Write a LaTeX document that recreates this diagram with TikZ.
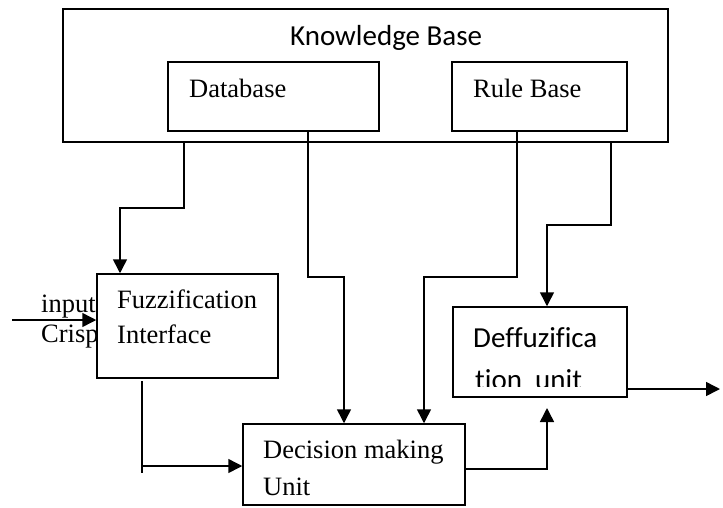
\documentclass[tikz,border=0pt]{standalone}
\usepackage{fontspec}
\setmainfont[Ligatures=CommonOff]{Liberation Serif}
\newfontfamily\calfont[Ligatures=CommonOff]{Carlito}
\usetikzlibrary{arrows.meta}

\tikzset{
  blk/.style={draw, line width=1.5pt, rectangle, inner sep=0pt, fill=white},
  lbl/.style={inner sep=0pt, anchor=base west, font=\fontsize{26.5}{30}\selectfont},
  clbl/.style={inner sep=0pt, anchor=base west, font=\calfont\fontsize{29}{33}\selectfont},
  arr/.style={line width=1.5pt, -{Triangle[length=14pt,width=14pt]}},
  wire/.style={line width=1.5pt}
}

\begin{document}
\begin{tikzpicture}[x=1pt,y=-1pt]
\useasboundingbox (0,0) rectangle (723,507);

% knowledge base and its two parts
\node[blk, minimum width=605pt, minimum height=133pt] (kb) at (365.5,75.5) {};
\node[blk, minimum width=211pt, minimum height=69pt] (db) at (273.5,96.5) {};
\node[blk, minimum width=175pt, minimum height=69pt] (rb) at (539.5,96.5) {};
\node[clbl] (kbt) at (290,45) {Knowledge Base};
\node[lbl] (dbt) at (189,97) {Database};
\node[lbl] (rbt) at (473,97) {Rule Base};

% crisp input labels
\node[lbl] (inpt) at (41,312) {input};
\node[lbl] (crst) at (41,342) {Crisp};

% processing blocks
\node[blk, minimum width=181pt, minimum height=104pt] (fz) at (187.5,326) {};
\node[blk, minimum width=222pt, minimum height=81pt] (dm) at (354,464.5) {};
\node[blk, minimum width=174pt, minimum height=90pt] (df) at (540,352) {};

\node[lbl] (fzt1) at (117,308) {Fuzzification};
\node[lbl] (fzt2) at (117,343) {Interface};
\node[lbl] (dmt1) at (263,458) {Decision making};
\node[lbl] (dmt2) at (263,495) {Unit};
\node[clbl] (dft1) at (473,347) {Deffuzifica};
% second line is cut off by the text frame of the block
\begin{scope}
  \clip (453,307) rectangle (627,386);
  \node[clbl] (dft2) at (475,389) {tion\ \ unit};
\end{scope}

% bend points of the connectors
\coordinate (j1) at (184,208);
\coordinate (j2) at (120,208);
\coordinate (j3) at (308,277);
\coordinate (j4) at (344,277);
\coordinate (j5) at (517,277);
\coordinate (j6) at (424,277);
\coordinate (j7) at (611,225);
\coordinate (j8) at (547,225);
\coordinate (inp) at (12,320);
\coordinate (f1) at (142,381);
\coordinate (f2) at (142,466);
\coordinate (f3) at (142,473);
\coordinate (o1) at (547,469);
\coordinate (o2) at (547,408);
\coordinate (out) at (720,389);

% connectors
\draw[arr] (kb.south -| j1) -- (j1) -- (j2) -- (fz.north -| j2);
\draw[arr] (db.south -| j3) -- (j3) -- (j4) -- (dm.north -| j4);
\draw[arr] (rb.south -| j5) -- (j5) -- (j6) -- (dm.north -| j6);
\draw[arr] (kb.south -| j7) -- (j7) -- (j8) -- (df.north -| j8);
\draw[arr] (inp) -- (fz.west |- inp);
\draw[wire] (f1) -- (f3);
\draw[arr] (f2) -- (dm.west |- f2);
\draw[arr] (dm.east |- o1) -- (o1) -- (o2);
\draw[arr] (df.east |- out) -- (out);
\end{tikzpicture}
\end{document}
